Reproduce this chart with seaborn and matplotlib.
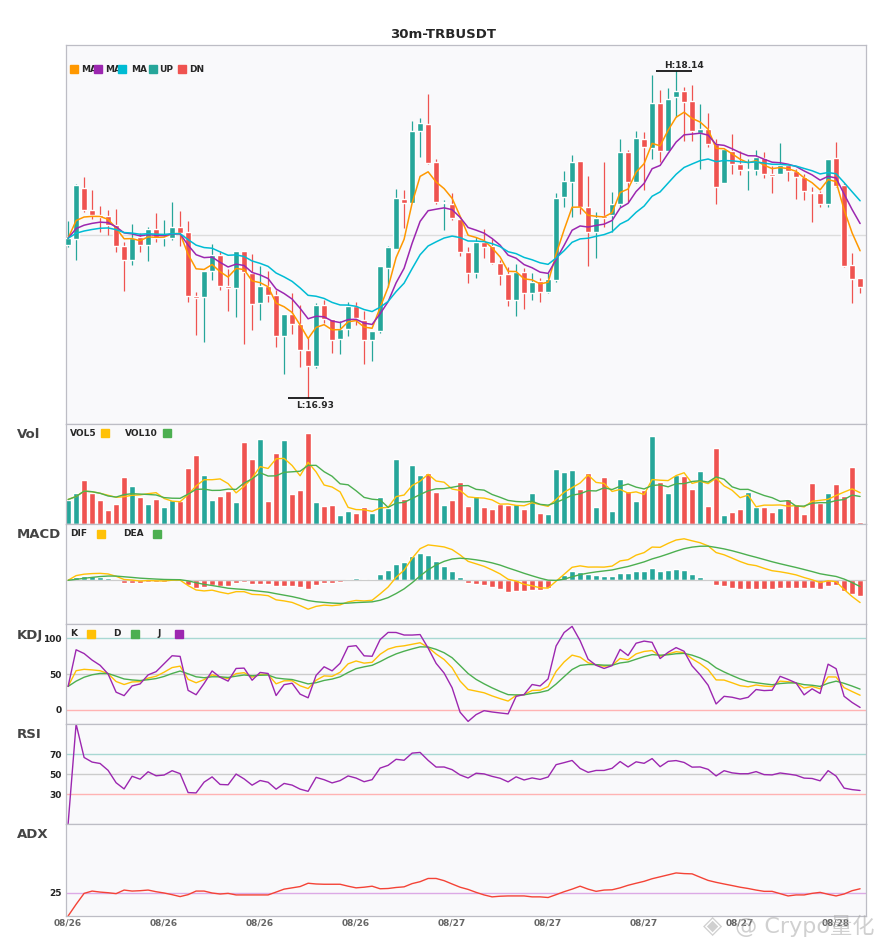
import numpy as np
import pandas as pd
import seaborn as sns
import matplotlib
matplotlib.use("Agg")
import matplotlib.pyplot as plt
from matplotlib.patches import Rectangle

# 30m TRBUSDT candles, 08/26 00:00 onwards
opens = [17.496, 17.518, 17.707, 17.626, 17.606, 17.603, 17.570, 17.494, 17.440, 17.527,
         17.496, 17.555, 17.523, 17.523, 17.563, 17.544, 17.307, 17.304, 17.401, 17.459,
         17.344, 17.338, 17.473, 17.391, 17.283, 17.344, 17.311, 17.159, 17.241, 17.204,
         17.107, 17.049, 17.274, 17.222, 17.148, 17.186, 17.270, 17.218, 17.144, 17.179,
         17.412, 17.482, 17.666, 17.650, 17.918, 17.944, 17.803, 17.653, 17.648, 17.591,
         17.470, 17.394, 17.507, 17.492, 17.431, 17.389, 17.292, 17.396, 17.320, 17.363,
         17.323, 17.366, 17.675, 17.730, 17.807, 17.637, 17.543, 17.603, 17.607, 17.648,
         17.840, 17.730, 17.888, 17.857, 18.023, 17.845, 18.045, 18.066, 18.029, 17.912,
         17.925, 17.872, 17.727, 17.845, 17.796, 17.774, 17.774, 17.817, 17.759, 17.759,
         17.791, 17.771, 17.749, 17.692, 17.690, 17.648, 17.818, 17.717, 17.422, 17.374]
highs = [17.585, 17.722, 17.748, 17.700, 17.640, 17.626, 17.629, 17.508, 17.574, 17.539,
         17.564, 17.614, 17.589, 17.655, 17.622, 17.585, 17.323, 17.401, 17.501, 17.474,
         17.407, 17.473, 17.473, 17.464, 17.418, 17.400, 17.329, 17.241, 17.317, 17.274,
         17.151, 17.280, 17.292, 17.222, 17.215, 17.286, 17.286, 17.253, 17.179, 17.418,
         17.492, 17.704, 17.700, 17.955, 17.967, 18.056, 17.814, 17.663, 17.687, 17.601,
         17.487, 17.527, 17.555, 17.518, 17.440, 17.416, 17.426, 17.410, 17.391, 17.373,
         17.394, 17.687, 17.770, 17.829, 17.807, 17.751, 17.618, 17.803, 17.692, 17.887,
         17.848, 17.918, 17.915, 18.125, 18.070, 18.076, 18.140, 18.082, 18.088, 18.018,
         17.986, 17.888, 17.850, 17.907, 17.845, 17.816, 17.848, 17.840, 17.788, 17.875,
         17.796, 17.779, 17.759, 17.712, 17.697, 17.814, 17.878, 17.724, 17.468, 17.374]
lows = [17.490, 17.440, 17.619, 17.591, 17.545, 17.533, 17.471, 17.327, 17.423, 17.471,
        17.437, 17.508, 17.494, 17.515, 17.494, 17.286, 17.163, 17.138, 17.366, 17.329,
        17.253, 17.231, 17.130, 17.181, 17.218, 17.286, 17.120, 17.019, 17.167, 17.043,
        16.930, 17.039, 17.206, 17.095, 17.093, 17.159, 17.200, 17.056, 17.068, 17.169,
        17.342, 17.482, 17.558, 17.650, 17.823, 17.796, 17.648, 17.552, 17.589, 17.455,
        17.357, 17.374, 17.449, 17.426, 17.348, 17.270, 17.233, 17.260, 17.292, 17.286,
        17.317, 17.360, 17.638, 17.601, 17.611, 17.419, 17.449, 17.564, 17.545, 17.638,
        17.656, 17.724, 17.700, 17.813, 17.804, 17.841, 17.971, 17.881, 17.881, 17.779,
        17.860, 17.648, 17.724, 17.759, 17.755, 17.700, 17.755, 17.746, 17.690, 17.759,
        17.734, 17.667, 17.663, 17.581, 17.638, 17.638, 17.712, 17.413, 17.283, 17.320]
closes = [17.521, 17.718, 17.626, 17.607, 17.601, 17.570, 17.494, 17.440, 17.521, 17.496,
          17.555, 17.521, 17.527, 17.563, 17.540, 17.307, 17.301, 17.401, 17.460, 17.344,
          17.338, 17.473, 17.397, 17.279, 17.344, 17.311, 17.159, 17.241, 17.204, 17.107,
          17.049, 17.274, 17.221, 17.144, 17.184, 17.270, 17.225, 17.144, 17.179, 17.418,
          17.489, 17.670, 17.653, 17.918, 17.949, 17.801, 17.654, 17.656, 17.597, 17.471,
          17.391, 17.507, 17.490, 17.431, 17.385, 17.292, 17.396, 17.317, 17.359, 17.323,
          17.370, 17.670, 17.733, 17.803, 17.638, 17.545, 17.595, 17.595, 17.648, 17.840,
          17.729, 17.891, 17.860, 18.023, 17.845, 18.036, 18.066, 18.025, 17.919, 17.925,
          17.872, 17.712, 17.850, 17.796, 17.774, 17.775, 17.823, 17.759, 17.753, 17.791,
          17.771, 17.749, 17.697, 17.690, 17.648, 17.814, 17.716, 17.418, 17.370, 17.342]
volumes = [73, 91, 130, 91, 73, 43, 61, 139, 112, 79,
           61, 76, 52, 73, 70, 167, 205, 145, 73, 82,
           97, 67, 244, 194, 253, 70, 211, 250, 88, 100,
           271, 67, 55, 58, 28, 40, 34, 52, 34, 79,
           49, 194, 76, 175, 145, 151, 94, 58, 73, 124,
           55, 82, 52, 46, 61, 58, 61, 46, 91, 34,
           31, 163, 154, 160, 103, 151, 52, 139, 40, 133,
           97, 70, 100, 262, 124, 91, 145, 142, 103, 157,
           55, 226, 28, 37, 46, 94, 52, 52, 37, 49,
           76, 61, 31, 121, 64, 91, 118, 82, 169, 7]
adx_values = [0, 12.7, 24.6, 27.1, 26.0, 25.3, 24.3, 28.2, 27.1, 27.5,
              28.2, 26.4, 25.0, 23.2, 21.1, 23.2, 27.1, 27.1, 25.0, 23.9,
              24.6, 22.9, 22.9, 22.9, 22.9, 22.9, 26.0, 29.2, 30.6, 32.0,
              35.6, 34.8, 34.5, 34.5, 34.5, 32.4, 30.6, 31.3, 32.4, 29.6,
              29.9, 31.0, 31.7, 35.2, 37.3, 40.8, 40.8, 38.4, 34.8, 31.3,
              28.9, 25.7, 22.9, 20.8, 21.5, 21.8, 21.8, 21.8, 20.8, 20.8,
              20.1, 23.2, 26.4, 29.2, 32.4, 29.2, 26.8, 28.2, 28.5, 30.6,
              33.4, 35.6, 37.7, 40.5, 42.6, 44.7, 46.8, 46.1, 45.8, 42.2,
              38.7, 36.6, 34.8, 33.1, 31.3, 29.9, 28.2, 26.8, 26.8, 24.3,
              21.8, 22.9, 22.9, 24.6, 25.7, 23.6, 21.8, 23.9, 27.5, 29.6]
tick_labels = ["08/26", "08/26", "08/26", "08/26", "08/27", "08/27", "08/27", "08/27", "08/28"]

UP = "#26a69a"
DN = "#ef5350"
YEL = "#ffc107"
GRN = "#4caf50"
PUR = "#9c27b0"

df = pd.DataFrame({"open": opens, "high": highs, "low": lows, "close": closes,
                   "vol": volumes, "adx": adx_values})
df["x"] = np.arange(len(df))
df["up"] = df["close"] >= df["open"]

# indicators
df["ma5"] = df["close"].ewm(span=5, adjust=False).mean()
df["ma10"] = df["close"].ewm(span=10, adjust=False).mean()
df["ma20"] = df["close"].ewm(span=20, adjust=False).mean()
df["vol5"] = df["vol"].rolling(5, min_periods=1).mean()
df["vol10"] = df["vol"].rolling(10, min_periods=1).mean()

ema12 = df["close"].ewm(span=12, adjust=False).mean()
ema26 = df["close"].ewm(span=26, adjust=False).mean()
df["dif"] = ema12 - ema26
df["dea"] = df["dif"].ewm(span=9, adjust=False).mean()
df["hist"] = df["dif"] - df["dea"]

low9 = df["low"].rolling(9, min_periods=1).min()
high9 = df["high"].rolling(9, min_periods=1).max()
rsv = (df["close"] - low9) / (high9 - low9) * 100
df["k"] = rsv.ewm(com=2, adjust=False).mean()
df["d"] = df["k"].ewm(com=2, adjust=False).mean()
df["j"] = 3 * df["k"] - 2 * df["d"]

chg = df["close"].diff()
gain = chg.clip(lower=0).ewm(com=13).mean()
loss = (-chg).clip(lower=0).ewm(com=13).mean()
df["rsi"] = (100 * gain / (gain + loss)).fillna(0)

sns.set_style("white")
plt.rcParams["font.family"] = ["DejaVu Sans", "Noto Sans CJK SC"]

W, H = 885, 950
fig = plt.figure(figsize=(W / 100, H / 100), dpi=100)


def fx(px):
    return px / W


def fy(py):
    return 1 - py / H


def box(top, bottom):
    return [fx(65.7), fy(bottom), 800 / W, (bottom - top) / H]


ax_k = fig.add_axes(box(45, 424))
ax_v = fig.add_axes(box(424, 524))
ax_m = fig.add_axes(box(524, 624))
ax_kdj = fig.add_axes(box(624, 724))
ax_r = fig.add_axes(box(724, 824))
ax_a = fig.add_axes(box(824, 916))
axes = [ax_k, ax_v, ax_m, ax_kdj, ax_r, ax_a]

x = df["x"]
colors = np.where(df["up"], UP, DN)

# candles
ax_k.vlines(x, df["low"], df["high"], color=colors, lw=0.9, zorder=2)
body_lo = np.minimum(df["open"], df["close"])
body_h = np.maximum((df["close"] - df["open"]).abs(), 0.004)
ax_k.bar(x, body_h, bottom=body_lo, width=0.75, color=colors, zorder=3)
for col, c in [("ma5", "#ff9800"), ("ma10", PUR), ("ma20", "#00bcd4")]:
    sns.lineplot(x=x, y=df[col], ax=ax_k, color=c, lw=1.1, zorder=4, legend=False)
lo, hi = df["low"].min(), df["high"].max()
pad = (hi - lo) * 0.08
ax_k.set_ylim(lo - pad, hi + pad)
ax_k.axhline((lo + hi) / 2, color="#dddddd", lw=1, zorder=1)
ax_k.set_yticks([])

i_hi = int(df["high"].idxmax())
i_lo = int(df["low"].idxmin())
ax_k.hlines(hi, i_hi - 2.5, i_hi + 2, color="black", lw=1.2, zorder=5)
ax_k.annotate(f"H:{hi:.2f}", xy=(i_hi - 1.5, hi), xytext=(0, 1), textcoords="offset pixels",
              ha="left", va="bottom", fontsize=6.5, fontweight="bold")
ax_k.hlines(lo, i_lo - 2.5, i_lo + 2, color="black", lw=1.2, zorder=5)
ax_k.annotate(f"L:{lo:.2f}", xy=(i_lo - 1.5, lo), xytext=(0, -3), textcoords="offset pixels",
              ha="left", va="top", fontsize=6.5, fontweight="bold")

# volume
ax_v.bar(x, df["vol"], width=0.72, color=colors)
sns.lineplot(x=x, y=df["vol5"], ax=ax_v, color=YEL, lw=1, legend=False)
sns.lineplot(x=x, y=df["vol10"], ax=ax_v, color=GRN, lw=1, legend=False)
ax_v.set_ylim(0, df["vol"].max() * 1.1)
ax_v.set_yticks([])

# macd
ax_m.axhline(0, color="#cccccc", lw=0.9)
ax_m.bar(x, df["hist"], width=0.7, color=np.where(df["hist"] >= 0, UP, DN))
sns.lineplot(x=x, y=df["dif"], ax=ax_m, color=YEL, lw=1, legend=False)
sns.lineplot(x=x, y=df["dea"], ax=ax_m, color=GRN, lw=1, legend=False)
mlo = min(df["dif"].min(), df["dea"].min(), df["hist"].min())
mhi = max(df["dif"].max(), df["dea"].max(), df["hist"].max())
mpad = (mhi - mlo) * 0.21
ax_m.set_ylim(mlo - mpad, mhi + mpad)
ax_m.set_yticks([])

# kdj
ax_kdj.axhline(100, color="#a8d8d3", lw=1)
ax_kdj.axhline(50, color="#cccccc", lw=1)
ax_kdj.axhline(0, color="#ffb3b3", lw=1)
sns.lineplot(x=x, y=df["k"], ax=ax_kdj, color=YEL, lw=1, legend=False)
sns.lineplot(x=x, y=df["d"], ax=ax_kdj, color=GRN, lw=1, legend=False)
sns.lineplot(x=x, y=df["j"], ax=ax_kdj, color=PUR, lw=1, legend=False)
ax_kdj.set_ylim(-20, 120)
ax_kdj.set_yticks([0, 50, 100])

# rsi
ax_r.axhline(70, color="#a8d8d3", lw=1)
ax_r.axhline(50, color="#cccccc", lw=1)
ax_r.axhline(30, color="#ffb3b3", lw=1)
sns.lineplot(x=x, y=df["rsi"], ax=ax_r, color=PUR, lw=1, legend=False)
ax_r.set_ylim(0, 100)
ax_r.set_yticks([30, 50, 70])

# adx
ax_a.axhline(25, color="#dcaae6", lw=1)
sns.lineplot(x=x, y=df["adx"], ax=ax_a, color="#f44336", lw=1, legend=False)
ax_a.set_ylim(0, 100)
ax_a.set_yticks([25])

for ax in axes:
    ax.set_facecolor("#f9f9fb")
    ax.set_xlim(-0.3, 99.7)
    ax.set_xlabel("")
    ax.set_ylabel("")
    for s in ax.spines.values():
        s.set_color("#bdbdc5")
        s.set_linewidth(0.9)
    ax.tick_params(length=0, pad=3)
    ax.set_xticks(range(0, 100, 12))
    ax.set_xticklabels([])
    ax.set_yticklabels([f"{t:g}" for t in ax.get_yticks()], fontsize=6.5,
                       fontweight="bold", color="#222222")
ax_a.set_xticklabels(tick_labels, fontsize=6.5, fontweight="bold", color="#666666")
ax_a.tick_params(axis="x", pad=2)

# title, panel names, legends
fig.text(fx(443), fy(34), "30m-TRBUSDT", ha="center", va="center", fontsize=9.5, fontweight="bold")
for name, py in [("Vol", 434.5), ("MACD", 534.7), ("KDJ", 635), ("RSI", 735), ("ADX", 835)]:
    fig.text(fx(17), fy(py), name, ha="left", va="center", fontsize=9.5,
             fontweight="bold", color="#444444")


def square(px, py, color):
    fig.add_artist(Rectangle((fx(px), fy(py + 4)), 8 / W, 8 / H, transform=fig.transFigure,
                             color=color, zorder=5))


def label(px, py, s):
    fig.text(fx(px), fy(py), s, ha="left", va="center", fontsize=6.5, fontweight="bold", zorder=3)


for s, tx in [("MA", 81), ("MA", 105), ("MA", 131), ("UP", 159), ("DN", 189)]:
    label(tx, 69, s)
for sx, c in [(70, "#ff9800"), (94, PUR), (118, "#00bcd4"), (149, UP), (178, DN)]:
    square(sx, 69, c)

label(70, 433, "VOL5")
label(125, 433, "VOL10")
square(101, 433, YEL)
square(163, 433, GRN)

label(70, 534, "DIF")
label(123, 534, "DEA")
square(97, 534, YEL)
square(153, 534, GRN)

label(70, 634, "K")
label(113, 634, "D")
label(157, 634, "J")
square(87, 634, YEL)
square(131, 634, GRN)
square(175, 634, PUR)

# watermark
fig.text(fx(703), fy(926), "◈", ha="left", va="center", fontsize=18, color="#aaaaaa", alpha=0.55)
fig.text(fx(735), fy(926), "@ Crypo量化", ha="left", va="center", fontsize=16,
         color="#aaaaaa", alpha=0.55)

fig.savefig("out.png", dpi=100)
